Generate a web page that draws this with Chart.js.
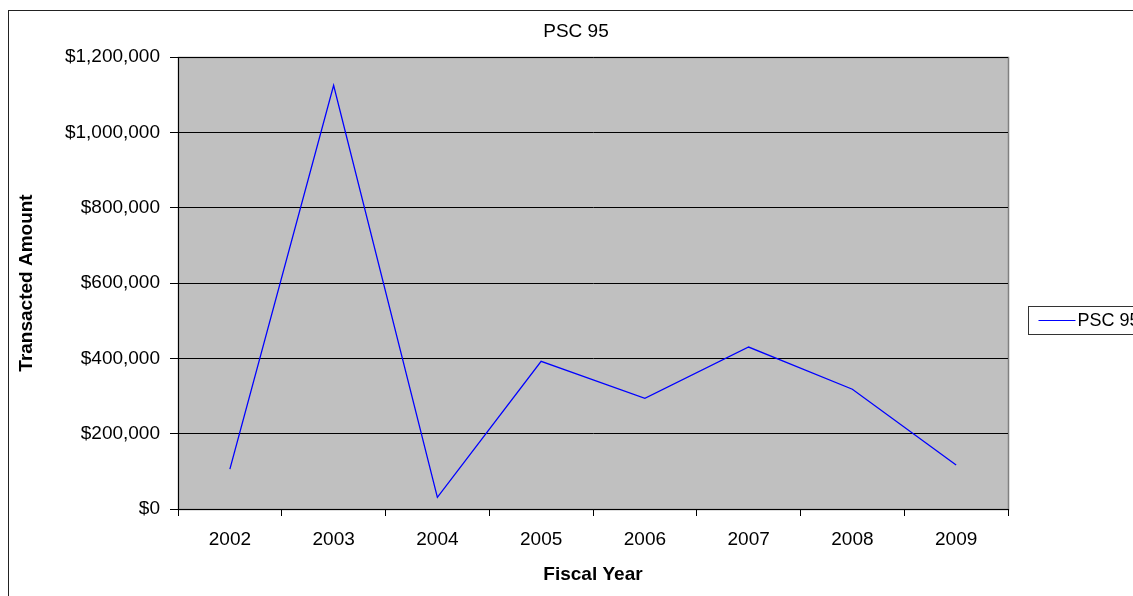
<!DOCTYPE html>
<html>
<head>
<meta charset="utf-8">
<script src="https://cdn.jsdelivr.net/npm/chart.js@4/dist/chart.umd.min.js"></script>
<style>
  html, body { margin: 0; padding: 0; background: #fff; overflow: hidden; }
  #wrap { width: 1133px; height: 596px; }
</style>
</head>
<body>
<div id="wrap"><canvas id="pscChart" width="1133" height="596"></canvas></div>
<script>
// dados
const anos = ['2002', '2003', '2004', '2005', '2006', '2007', '2008', '2009'];
const valores = [106000, 1125000, 31000, 392000, 294000, 430000, 318000, 117000];
const serieNome = 'PSC 95';
const titulo = 'PSC 95';

const fonte = "'Liberation Sans', Arial, sans-serif";
const tam = 19;

// formata como $1,200,000
function formatDolar(v) {
    return '$' + Math.round(v).toLocaleString('en-US');
}

// fundo cinza da área do gráfico + moldura externa + título
const fundoPlugin = {
    id: 'fundo',
    beforeDraw(chart) {
        const c = chart.ctx;
        const a = chart.chartArea;
        c.save();
        c.fillStyle = '#fff';
        c.fillRect(0, 0, chart.width, chart.height);
        c.strokeStyle = '#222';
        c.lineWidth = 1;
        c.strokeRect(8.5, 10.5, chart.width + 50, chart.height + 50);
        c.fillStyle = '#C0C0C0';
        c.fillRect(a.left, a.top, a.right - a.left, a.bottom - a.top);
        c.strokeStyle = '#808080';
        c.lineWidth = 1.5;
        c.strokeRect(a.left + 0.5, a.top + 0.5, a.right - a.left, a.bottom - a.top);
        // título centrado na área total do gráfico (que passa da borda direita)
        c.fillStyle = '#000';
        c.font = tam + 'px ' + fonte;
        c.textAlign = 'center';
        c.textBaseline = 'middle';
        c.fillText(titulo, 576, 32);
        c.restore();
    }
};

// legenda desenhada à mão (fica cortada na borda direita)
const legendaPlugin = {
    id: 'legendaFora',
    afterDraw(chart) {
        const c = chart.ctx;
        const a = chart.chartArea;
        const ds = chart.data.datasets[0];
        const x = a.right + 20.5;
        const yMid = 320;
        c.save();
        c.fillStyle = '#fff';
        c.fillRect(x, yMid - 14, 140, 28);
        c.strokeStyle = '#333';
        c.lineWidth = 1;
        c.strokeRect(x, yMid - 14 + 0.5, 140, 28);
        c.strokeStyle = ds.borderColor;
        c.lineWidth = 1.2;
        c.beginPath();
        c.moveTo(x + 10, yMid + 0.5);
        c.lineTo(x + 47, yMid + 0.5);
        c.stroke();
        c.fillStyle = '#000';
        c.font = '18px ' + fonte;
        c.textBaseline = 'middle';
        c.fillText(ds.label, x + 49, yMid + 1);
        c.restore();
    }
};

new Chart(document.getElementById('pscChart'), {
    type: 'line',
    data: {
        labels: anos,
        datasets: [{
            label: serieNome,
            data: valores,
            borderColor: '#0000FF',
            borderWidth: 1.3,
            pointRadius: 0,
            tension: 0,
            fill: false
        }]
    },
    options: {
        responsive: false,
        animation: false,
        layout: { padding: { left: 10, top: 57, right: 125, bottom: 10 } },
        plugins: {
            legend: { display: false },
            tooltip: { enabled: false },
            title: { display: false }
        },
        scales: {
            x: {
                offset: true,
                grid: {
                    offset: true,
                    drawOnChartArea: false,
                    drawTicks: true,
                    tickLength: 7,
                    color: '#000'
                },
                border: { color: '#000', width: 1 },
                ticks: {
                    color: '#000',
                    font: { family: fonte, size: tam },
                    padding: 12,
                    maxRotation: 0
                },
                title: {
                    display: true,
                    text: 'Fiscal Year',
                    color: '#000',
                    font: { family: fonte, size: tam, weight: 'bold' },
                    padding: { top: 4, bottom: 0 }
                },
                afterFit(scale) { scale.height = 77; }
            },
            y: {
                min: 0,
                max: 1200000,
                grid: {
                    color: '#000',
                    lineWidth: 1,
                    tickLength: 8,
                    drawTicks: true
                },
                border: { color: '#000', width: 1 },
                ticks: {
                    stepSize: 200000,
                    color: '#000',
                    font: { family: fonte, size: tam },
                    padding: 10,
                    callback: v => formatDolar(v)
                },
                title: {
                    display: true,
                    text: 'Transacted Amount',
                    color: '#000',
                    font: { family: fonte, size: tam, weight: 'bold' },
                    padding: { top: 5, bottom: 0 }
                },
                afterFit(scale) { scale.width = 168; }
            }
        }
    },
    plugins: [fundoPlugin, legendaPlugin]
});
</script>
</body>
</html>
